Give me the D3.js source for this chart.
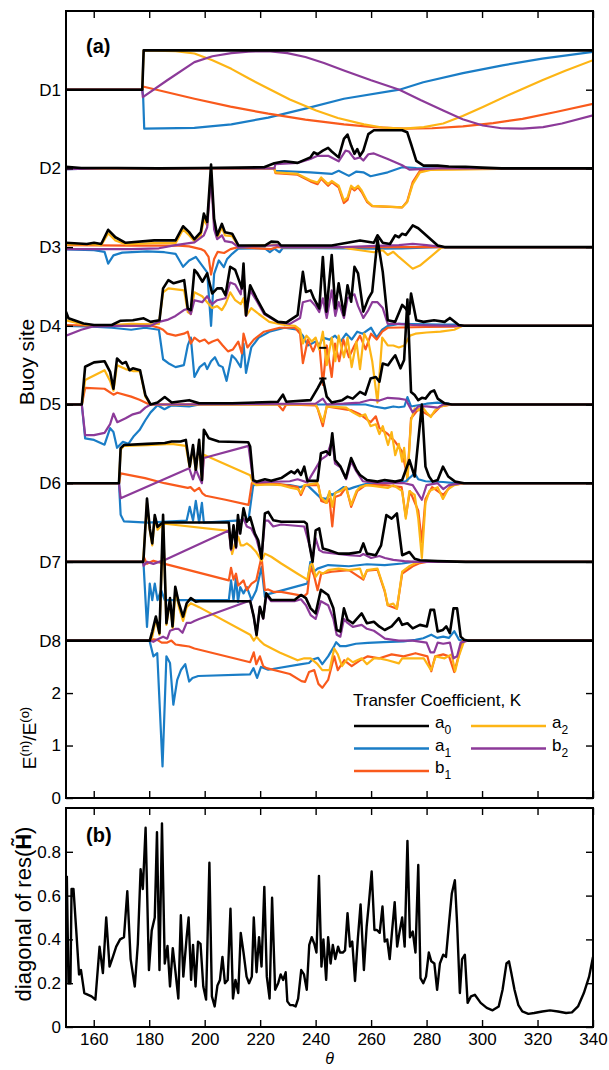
<!DOCTYPE html>
<html>
<head>
<meta charset="utf-8">
<script src="https://cdn.jsdelivr.net/npm/d3@7"></script>
<style>
  body { margin: 0; background: #fff; }
  text { font-family: "Liberation Sans", Arial, Helvetica, sans-serif; }
</style>
</head>
<body>
<div id="chart"></div>
<script>
// ---- data: [theta, normalised coefficient] ----
var siteNames = ["D1", "D2", "D3", "D4", "D5", "D6", "D7", "D8"];
var coefNames = ["a1", "b1", "a2", "b2", "a0"];   // drawing order, black last
var coefColors = {a0: "#000000", a1: "#1a7dc6", b1: "#f95a1c", a2: "#fdb515", b2: "#8c3a99"};

var D1_a0 = [[150,0],[177.5,0],[178,1],[340,1]];
var D1_a1 = [[150,0],[177.5,0],[177.8,-0.15],[178.2,-0.99],[196.3,-0.97],[209.6,-0.88],[222.9,-0.71],[236.3,-0.48],[250.2,-0.23],[270.2,0],[278.8,0.19],[293.1,0.42],[307.4,0.62],[321.7,0.79],[340,0.96]];
var D1_b1 = [[150,0],[177.5,0],[177.7,0.08],[196.3,-0.23],[209.3,-0.43],[222.9,-0.61],[236.3,-0.76],[250.2,-0.88],[261,-0.95],[271.7,-0.99],[282,-0.98],[293.1,-0.93],[304,-0.85],[314.6,-0.74],[327,-0.56],[340,-0.36]];
var D1_a2 = [[150,0],[177.5,0],[178,1],[189.5,0.98],[196.3,0.92],[202.8,0.75],[209.6,0.53],[215.8,0.29],[222.9,0.03],[230.7,-0.25],[240.2,-0.53],[248,-0.72],[257.4,-0.88],[264,-0.96],[271.7,-0.99],[279,-0.95],[286,-0.86],[293,-0.67],[300.3,-0.44],[310,-0.12],[321.7,0.24],[330,0.48],[340,0.75]];
var D1_b2 = [[150,0],[177.5,0],[177.7,-0.19],[186.5,0.24],[196.3,0.7],[202.8,0.85],[209.6,0.93],[215.8,0.97],[222.9,0.98],[229.8,0.93],[236.3,0.83],[243,0.68],[250.2,0.49],[260,0.24],[270.2,0],[278,-0.27],[286,-0.53],[293,-0.75],[300.3,-0.91],[307,-0.98],[314.6,-0.99],[322,-0.95],[328.8,-0.86],[340,-0.65]];

var D2_a0 = [[150,0.04],[155.5,0.01],[168.5,0.01],[183.5,0],[198.2,0.01],[212.1,0.02],[221.4,0.03],[225.1,0.13],[228.8,0.18],[233.5,0.14],[238.1,0.28],[239.4,0.41],[240.7,0.36],[242.6,0.45],[244.5,0.52],[245.8,0.43],[248.3,0.28],[250.2,0.75],[251.5,0.86],[252.8,0.58],[254,0.37],[255,0.49],[256,0.32],[257.2,0.45],[259,0.87],[261,0.97],[271.2,0.97],[273,0.92],[274.4,0.62],[276.3,0.19],[278.9,0.07],[284,0.07],[288,0.05],[294,0.04],[300,0.02],[307,0],[340,0]];
var D2_a1 = [[150,-0.02],[163.5,0],[225.1,0],[225.5,-0.06],[238.1,-0.1],[245.8,-0.14],[248.3,-0.06],[252,-0.19],[254.7,-0.08],[257.2,-0.1],[259.8,-0.2],[266,-0.1],[271.2,0.03],[276.3,0.01],[284,0],[340,0]];
var D2_b1 = [[150,0],[225.1,0],[225.5,-0.12],[233.5,-0.16],[238.1,-0.33],[240.7,-0.4],[242,-0.26],[244.5,-0.44],[245.8,-0.35],[248.3,-0.48],[250.2,-0.88],[251.5,-0.8],[252.8,-0.48],[254,-0.56],[255.3,-0.48],[256.6,-0.6],[258.5,-0.85],[260.4,-0.96],[271.2,-0.99],[273,-0.84],[275,-0.35],[277.6,-0.06],[281.4,-0.02],[290,0],[340,0]];
var D2_a2 = [[150,-0.01],[225.1,0],[225.5,-0.1],[233.5,-0.14],[238.1,-0.3],[240.7,-0.36],[242,-0.23],[244.5,-0.4],[245.8,-0.32],[248.3,-0.44],[250.2,-0.82],[251.5,-0.74],[252.8,-0.44],[254,-0.52],[255.3,-0.44],[256.6,-0.56],[258.5,-0.82],[260.4,-0.95],[271.2,-0.99],[273,-0.86],[275,-0.4],[277.6,-0.1],[281.4,-0.04],[290,-0.03],[305.6,-0.01],[309,0],[340,0]];
var D2_b2 = [[150,-0.02],[163.5,0],[225.1,0],[225.5,0.11],[233.5,0.14],[238.1,0.24],[240.7,0.32],[244.5,0.32],[248.3,0.18],[250.8,0.45],[252,0.43],[254,0.24],[256,0.28],[257.2,0.2],[259,0.36],[261,0.38],[266,0.24],[271.2,0.08],[273.8,-0.03],[277.6,-0.02],[284,0],[340,0]];

var D3_a0 = [[150,0.11],[157.5,0.08],[160.1,0.11],[162.7,0.08],[165.2,0.44],[167.8,0.25],[171.5,0.11],[181.8,0.17],[189.5,0.17],[192.2,0.53],[194.4,0.38],[196.3,0.2],[198.6,0.38],[199.7,0.85],[200.9,0.64],[202.3,2.1],[203.4,0.72],[204.5,0.3],[206.2,0.59],[207.3,0.38],[209.9,0.34],[212.2,0.04],[221.7,0.04],[224,0.14],[226.4,0.13],[227.5,0.04],[245.8,0.04],[256,0.17],[261,0.11],[262.3,0.3],[264.2,0.11],[266.8,0.08],[268.7,0.3],[270,0.25],[271.2,0.34],[272.5,0.31],[275,0.55],[277,0.48],[284,0.04],[286.5,0],[340,0]];
var D3_a1 = [[150,-0.06],[160.1,-0.08],[163.9,-0.12],[165.2,-0.42],[167.1,-0.21],[170.3,-0.14],[179.2,-0.11],[185.5,-0.13],[189.5,-0.17],[192.2,-0.5],[194.4,-0.34],[196.8,-0.25],[199.1,-0.47],[200.9,-0.64],[202.3,-2],[203.4,-0.68],[205.1,-0.34],[206.9,-0.51],[208.1,-0.3],[209.9,-0.17],[212.1,-0.04],[221.7,-0.03],[223.5,-0.13],[225.1,-0.04],[227,-0.13],[228.2,-0.02],[262.3,-0.04],[271.2,-0.03],[284,0],[340,0]];
var D3_b1 = [[150,0.05],[173.5,0.04],[189.5,0.04],[194.4,0.02],[198.6,-0.05],[200,-0.1],[201.4,-0.25],[202.3,-0.7],[203.4,-0.3],[204.7,-0.12],[207,-0.15],[209.3,-0.05],[212.1,0],[224,-0.05],[226,0],[340,0]];
var D3_a2 = [[150,0.07],[159.5,0.07],[162.7,0.05],[165.2,0.35],[167.8,0.17],[171.5,0.07],[181.8,0.1],[189.5,0.1],[192.2,0.45],[194.4,0.3],[196.3,0.15],[198.6,0.3],[199.7,0.7],[200.9,0.55],[202.3,1.95],[203.4,0.6],[204.5,0.22],[206.2,0.5],[207.3,0.3],[209.9,0.28],[212.2,0.02],[224,0.05],[226.4,0.06],[227.5,0],[250,0],[252,-0.04],[256,-0.08],[261,-0.13],[264.2,-0.08],[266,-0.2],[268,-0.12],[270,-0.25],[275,-0.55],[277.6,-0.47],[281.4,-0.25],[285.2,-0.02],[286.5,0],[340,0]];
var D3_b2 = [[150,-0.05],[173.5,-0.05],[183.5,-0.03],[189.5,0.05],[194.4,0.1],[196.3,0.12],[199.7,0.3],[200.9,0.5],[202.3,1.8],[203.4,0.45],[204.5,0.2],[206.2,0.3],[207.3,0.15],[209.9,0.12],[212.1,0],[224,0.04],[226.4,0.05],[227.5,0],[250,0],[262,0.03],[270,0.05],[275,0.08],[280,0.05],[286,0],[340,0]];

var D4_a0 = [[150,0.36],[150.9,0.19],[156.3,0.06],[160.1,0.02],[166.5,0.02],[169.7,0.13],[174.1,0.14],[178,0.19],[180.5,0.1],[183.7,0.14],[185,0.95],[186.9,1.16],[188.8,1.08],[192.6,1.16],[193.9,0.44],[195,0.4],[196.3,1.42],[197.4,1.33],[199.2,1.12],[200.9,1.33],[202.7,0.82],[204.5,0.95],[206.2,0.95],[207.5,0.78],[209.2,1.5],[211,1.42],[213.4,0.95],[214,1.58],[214.9,0.27],[216.4,1.03],[218.7,0.7],[221.7,0.31],[226.4,0.1],[229.4,0.08],[233.5,0.27],[235.4,1.37],[236.5,0.86],[238.2,0.9],[239.4,0.69],[241.3,0.44],[242.6,1.75],[243.9,0.36],[245.8,1.8],[247.1,0.44],[248.3,1.08],[250.2,0.27],[251.5,1.03],[252.8,0.61],[254,1.5],[255.3,1.33],[257.2,0.36],[259,0.69],[260.4,0.86],[262.3,2.2],[264.2,1.37],[266,0.14],[268.7,0.1],[271.2,0.53],[272.5,0.44],[273.8,0.3],[274.4,0.82],[276.3,0.14],[278.9,0.1],[282.7,0.14],[286.5,0.1],[288.4,0.2],[291.6,0.02],[293.5,0],[340,0]];
var D4_a1 = [[150,0],[159.5,-0.02],[166.5,-0.05],[173.5,-0.1],[178.5,-0.05],[183.5,-0.1],[185,-0.85],[186.9,-0.95],[189.5,-1.05],[192.5,-1],[193.9,-0.5],[195,-0.3],[196.3,-1.3],[198.2,-1.05],[200,-0.95],[200.9,-1.1],[202.3,-0.9],[203.7,-0.8],[205.1,-1],[206.5,-1.05],[207.9,-1.4],[209.8,-0.75],[211.2,-0.85],[213,-1.05],[214,-0.45],[214.9,-1.2],[216.8,-0.55],[219.5,-0.3],[223.3,-0.15],[228.8,-0.05],[233.5,-0.1],[235.4,-0.25],[237.2,-0.5],[240,-0.4],[241.3,-0.5],[242.6,-0.3],[245,-0.35],[247,-0.25],[249,-0.4],[251,-0.2],[253,-0.35],[255,-0.15],[257,-0.2],[260,-0.05],[262,-0.3],[264,-0.1],[266,0],[270,0.05],[285,0.03],[290,0.03],[293,0],[340,0]];
var D4_b1 = [[150,0.02],[163.5,0],[179.5,0.03],[183.5,-0.05],[185,-0.1],[186.5,-0.2],[189.5,-0.25],[192.5,-0.2],[193.9,-0.15],[195,-0.45],[196.3,-0.3],[198.2,-0.4],[200,-0.35],[201.4,-0.45],[202.8,-0.4],[204.7,-0.35],[206.5,-0.5],[208.4,-0.65],[210.2,-0.6],[212.1,-0.4],[213.4,-0.7],[214,-0.2],[215.4,-0.55],[217.7,-0.35],[221.4,-0.15],[227,-0.05],[232.6,-0.05],[234.4,-0.2],[235.4,-0.95],[237.2,-0.35],[239.1,-0.65],[240.5,-0.4],[241.5,-0.6],[242.6,-1.5],[244,-0.5],[245.8,-1.3],[247,-0.45],[248.5,-0.9],[250,-0.35],[252,-0.8],[254,-0.5],[256,-0.25],[258,-0.6],[260,-0.2],[262,-0.35],[264,-0.15],[266,-0.05],[280,-0.03],[290,-0.02],[293,0],[340,0]];
var D4_a2 = [[150,0.14],[155.5,0.05],[160.5,0],[166.5,0.02],[173.5,0.05],[180.5,0.04],[183.5,0.05],[185,0.85],[186.9,0.95],[192.6,0.9],[193.9,0.35],[195,0.3],[196.3,0.85],[199.1,0.75],[200.9,0.6],[202.7,0.45],[204.5,0.5],[206.2,0.4],[207.5,0.55],[209.2,0.85],[211,0.65],[213,0.55],[214,0.7],[214.9,0.25],[216.8,0.45],[219.5,0.3],[223.3,0.1],[228.8,0.02],[232.6,0],[234.4,-0.1],[235.4,-0.45],[236.7,-0.25],[238.6,-0.4],[240,-0.3],[241.3,-0.6],[242.6,-0.15],[244,-1],[245.8,-0.3],[247.1,-0.9],[248.3,-0.25],[250.2,-0.8],[251.5,-0.3],[253,-1.05],[254.7,-0.4],[256,-1.1],[257.5,-0.2],[259,-0.4],[260.4,-0.9],[262.3,-1.95],[264,-0.3],[266,-0.5],[268,-0.5],[270,-0.55],[272,-0.5],[274,-0.25],[276,-0.2],[280,-0.17],[285,-0.15],[290,-0.1],[293,0],[340,0]];
var D4_b2 = [[150,-0.25],[155.5,-0.1],[159.5,-0.02],[168.5,0],[180.5,0],[183.5,0.1],[186.5,0.15],[189.5,0.25],[192.5,0.4],[193.9,0.43],[195,0.3],[196.3,0.65],[199.1,0.6],[200.9,0.75],[202.7,0.55],[204.5,0.65],[207.5,0.7],[209.2,1.1],[211,1.05],[213,0.8],[214,1.4],[214.9,0.25],[216.4,0.9],[218.6,0.65],[221.4,0.3],[226.1,0.1],[230.7,0.05],[234.4,0.2],[235.4,0.6],[238.1,0.65],[240,0.5],[241.3,0.35],[242.6,0.7],[244,0.2],[245.8,0.9],[247.1,0.25],[248.3,0.6],[250.2,0.2],[251.5,0.7],[254,0.8],[255.3,0.5],[257.2,0.2],[259,0.4],[260.4,0.6],[262.3,0.6],[264.2,0.45],[266,0.05],[270,0.05],[275,0.02],[290,0],[340,0]];

var D5_a0 = [[150,0],[155.7,0],[156.9,0.96],[160.1,1.07],[163.9,1.1],[165.9,0.83],[167.1,0.4],[168.4,1.17],[170.3,1.04],[171.6,1.08],[172.9,0.87],[174.1,0.92],[176.7,0.87],[178.6,0.24],[180.5,0],[183,0.05],[185.6,0.19],[188.1,0.05],[194.4,0.11],[198,0.03],[209.9,0.03],[226.4,0.07],[228.2,0.25],[229.4,0.07],[238.2,0.11],[240.7,0.41],[242.6,0.66],[244,0.2],[245.8,0.05],[249.6,0.11],[251.5,0.2],[253.4,0.15],[256,0.32],[257.9,0.25],[259.8,0.66],[261.7,0.7],[263,0.58],[264.2,1.04],[266.1,1],[267.4,1.13],[268.7,1.25],[270.6,0.92],[271.9,1.13],[273.1,2.67],[274.4,0.32],[275.7,0.24],[277,0.11],[278.3,0.17],[279.6,0.15],[281.5,0.32],[282.7,0.36],[284,0.15],[286.5,0.03],[289.1,0],[340,0]];
var D5_a1 = [[150,0],[155.7,0],[156.9,-0.86],[160.1,-0.9],[163.9,-1.02],[165.9,-0.6],[167.1,-0.7],[168.4,-1.1],[170.5,-0.95],[172.5,-1],[174.5,-0.8],[176.5,-0.65],[178.6,-0.4],[180.5,-0.2],[183,-0.02],[185.5,-0.12],[188.1,-0.02],[194.4,-0.05],[198.2,0],[258,0],[261,-0.05],[265,-0.1],[268,-0.05],[270,-0.07],[272,-0.05],[273.1,0.19],[274.4,-0.05],[280,0.02],[284,0.05],[288,0.02],[289,0],[340,0]];
var D5_b1 = [[150,0],[155.7,0],[156.9,0.42],[163.9,0.4],[167.1,0.25],[168.5,0.3],[173.5,0.2],[176.5,0.12],[179.5,0.02],[181.5,0],[226.4,0],[228.2,-0.15],[229.4,0],[240,-0.02],[240.7,-0.1],[242.6,-0.55],[244,-0.05],[253,-0.15],[256,-0.25],[259.8,-0.45],[261.7,-0.3],[263,-0.6],[266,-0.75],[268.7,-0.95],[271.2,-1.2],[273.1,-1.85],[274.4,-0.35],[277,-0.12],[281.5,-0.3],[285,-0.05],[289,0],[340,0]];
var D5_a2 = [[150,0],[155.7,0],[156.9,0.62],[163.9,0.87],[165.9,0.6],[167.1,0.35],[168.4,1],[171.5,0.9],[174.1,0.85],[176.7,0.85],[178.6,0.2],[180.5,0],[240,0],[240.7,-0.1],[242.6,-0.45],[244,-0.05],[251,-0.08],[253.4,-0.2],[256,-0.3],[257.9,-0.25],[259.8,-0.55],[261.7,-0.5],[263,-0.75],[264.2,-0.55],[266.1,-1.03],[267.4,-0.7],[268.7,-1.29],[270,-1],[271.2,-1.45],[271.9,-1.1],[273.1,-1.95],[274.4,-0.4],[275.7,-0.1],[277,-0.15],[278.3,-0.05],[280,-0.2],[281.5,-0.32],[283,-0.15],[285,-0.05],[289,0],[340,0]];
var D5_b2 = [[150,0],[155.7,0],[156.9,-0.78],[160.1,-0.78],[163.9,-0.72],[165.9,-0.5],[167.1,-0.23],[168.5,-0.45],[171.5,-0.35],[174.1,-0.25],[176.7,-0.2],[178.6,-0.08],[180.5,0],[240,0.02],[242.6,0.15],[244,0],[250,0.02],[256,0.05],[259.8,0.12],[263,0.1],[266,0.17],[270,0.15],[272.5,0.12],[275,-0.2],[277,-0.05],[280,-0.05],[284,-0.08],[286,0],[340,0]];

var D6_a0 = [[150,0],[169.1,0],[169.7,0.89],[170.9,0.97],[179.2,1],[185.6,1.02],[188.1,1.06],[191.3,1.06],[193.2,1.1],[194.6,0.42],[195.8,0.97],[196.8,0.34],[198,1.1],[199,0.08],[199.7,1.36],[201.5,1.14],[205.1,1.06],[215.7,1.04],[216.4,0.93],[217.5,0.08],[218.7,0.04],[221.7,0.1],[224,0.06],[227.6,0.13],[231.2,0.3],[232.4,0.25],[233.5,0.34],[234.7,0.21],[235.9,0.42],[237,0.06],[240.7,0.06],[241.9,0.76],[243.9,0.81],[245.1,0.72],[246,1.27],[247,0.59],[249,0.42],[250.9,0.13],[252.8,0.64],[254.7,0.34],[256,0.21],[258.5,0.08],[262.3,0.04],[264.9,0.08],[268.7,0.04],[271.2,0.08],[273.8,0.59],[275.7,0.17],[278.3,2],[279.6,0.42],[280.9,0.17],[282.2,0.04],[284,0.08],[285.9,0.42],[287.8,0.17],[290.3,0.04],[293.5,0],[340,0]];
var D6_a1 = [[150,0],[169.1,0],[169.7,-0.8],[170.9,-0.97],[179.5,-1],[193.5,-0.95],[194.6,-0.6],[195.8,-0.95],[196.8,-0.45],[198,-1],[199,-0.5],[199.7,-1],[215.8,-0.93],[217.5,-0.05],[221.4,-0.02],[230.7,-0.05],[234.4,-0.1],[237,-0.05],[241.9,-0.38],[244,-0.4],[245,-0.25],[246,-0.3],[248,-0.2],[250,-0.1],[252,-0.15],[254,-0.1],[258,-0.02],[265,0.02],[272.5,0.05],[275.7,0.25],[277,0.1],[279.6,0.05],[286,0.03],[290,0],[340,0]];
var D6_b1 = [[150,0],[169.1,0],[169.7,0.25],[178.5,0.13],[185.5,0],[193.9,-0.12],[194.9,-0.1],[196.3,-0.2],[198,-0.12],[199.1,-0.25],[200.4,-0.32],[207.5,-0.42],[215.8,-0.55],[217,0],[218.6,0],[227,-0.02],[233.5,-0.1],[234.7,-0.3],[236.3,-0.05],[241,-0.05],[242,-0.45],[244,-0.5],[245,-0.4],[246,-1.1],[247,-0.35],[249,-0.3],[251,-0.1],[252.8,-0.6],[255,-0.2],[258,-0.05],[265,-0.05],[271,-0.1],[272.5,-0.85],[274,-0.2],[277,-0.7],[278.3,-1.5],[279.6,-0.4],[282,-0.1],[286,-0.3],[289,-0.05],[293.5,0],[340,0]];
var D6_a2 = [[150,0],[169.1,0],[169.7,0.85],[170.9,0.95],[179.5,0.97],[188.1,1],[193.2,0.95],[194.6,0.4],[195.8,0.9],[196.8,0.3],[198,1.05],[199,0.05],[199.7,0.72],[216.4,0.2],[217.5,0],[218.6,-0.05],[223.3,-0.03],[227.6,-0.05],[231.2,-0.12],[233.5,-0.15],[234.7,-0.25],[235.9,-0.05],[240.7,0],[241.9,-0.35],[243.9,-0.5],[245,-0.2],[246,-0.6],[247,-0.25],[249,-0.2],[250.9,-0.1],[252.8,-0.55],[254.7,-0.2],[256,-0.1],[258.5,-0.05],[262,-0.08],[266,-0.12],[268,-0.05],[271.2,-0.2],[272.5,-0.9],[273.8,-0.2],[275.7,-0.3],[277,-0.9],[278.3,-1.9],[279.6,-0.5],[281,-0.2],[284,-0.1],[285.9,-0.4],[287.8,-0.15],[290,-0.05],[293.5,0],[340,0]];
var D6_b2 = [[150,0],[169.1,0],[169.7,-0.38],[194.4,0.38],[195.8,0.1],[196.8,0.35],[198,0.15],[199,0],[199.7,0.64],[215.8,0.95],[217.5,0.05],[218.6,0.02],[230.7,0.05],[233.5,0.1],[237,0.02],[241.9,0.6],[244,0.7],[246,1.1],[247,0.5],[249,0.4],[251,0.1],[252.8,0.55],[254.7,0.3],[257,0.05],[262,0],[272,0],[275,-0.05],[278.3,-0.42],[280,-0.05],[284,0],[286,-0.15],[288,-0.05],[293,0],[340,0]];

var D7_a0 = [[150,0],[177.8,0],[178,0.13],[179.2,1.61],[180.2,0.85],[181.1,0.47],[182,1.19],[183,0.89],[184.3,0.97],[185.6,1],[208.7,1],[209.5,0.34],[210.4,0.93],[211.3,0.38],[212,1.19],[212.8,0.72],[214,1.36],[215.2,1.02],[216.4,1.14],[218.1,0.72],[219.3,0.55],[220.5,0.08],[221.7,1.23],[222.9,1.27],[224.7,1.06],[227.6,1.02],[235.9,1.02],[236.8,0.97],[237.7,0.47],[238.9,0],[240,0.8],[241.3,0.85],[242.6,0.34],[244.5,0.3],[248.3,0.21],[252.1,0.21],[256,0.25],[257.2,0.47],[258.5,0.21],[261.7,0.17],[263.6,0.42],[265.5,1.19],[267.4,1.1],[269.3,1.23],[271.2,0.17],[273.8,0.25],[275.7,0.08],[277.6,0.04],[284,0.02],[294.2,0],[340,0]];
var D7_a1 = [[150,0],[177.8,0],[178,-0.1],[179.2,-1.65],[180.2,-0.55],[181.1,-0.97],[182,-0.55],[183,-0.97],[184.3,-0.72],[185.6,-0.97],[208.7,-0.97],[209.5,-0.47],[210.4,-0.97],[211.3,-0.38],[212,-1.02],[212.8,-0.64],[214,-0.8],[215.2,-0.64],[216.9,-0.97],[218.6,-0.72],[220.5,-0.13],[221.7,-0.89],[222.9,-0.82],[235.9,-0.57],[237,-0.55],[238.1,0],[239.4,-0.25],[240.7,-0.17],[244.5,-0.08],[252,-0.11],[258.5,-0.06],[264.9,-0.08],[271.2,-0.04],[275,0],[340,0]];
var D7_b1 = [[150,0],[177.8,0],[178,0.13],[179.2,-0.05],[180.5,0],[181.5,0.03],[185.6,-0.05],[208.7,-0.47],[209.5,-0.15],[210.4,-0.45],[211.3,-0.3],[212.1,-0.6],[214,-0.47],[215.2,-0.72],[216.9,-0.55],[218.6,-0.47],[220.5,0.13],[221.7,-0.72],[222.9,-0.7],[224.7,-0.76],[227.6,-0.76],[235.9,-0.87],[237,-0.8],[238.1,-0.13],[239.4,-0.34],[240.7,-0.72],[242,-0.3],[245.8,-0.25],[252,-0.21],[257.2,-0.45],[258.5,-0.22],[262.3,-0.2],[264.9,-0.75],[266,-1.1],[269.3,-1.19],[271.2,-0.3],[275,-0.11],[277.6,-0.03],[280,0],[340,0]];
var D7_a2 = [[150,0],[177.8,0],[179.2,1.5],[180.2,0.8],[181.1,0.42],[182,1.12],[183,0.82],[184.3,0.92],[185.6,0.97],[208.7,0.79],[209.9,0.2],[211,0.5],[212.1,0.64],[213,0.42],[214,0.42],[215.2,0.47],[216.9,0.38],[218.6,0.25],[220.5,0.03],[221.7,0.21],[224,0.13],[227.6,-0.04],[233.5,-0.3],[237,-0.45],[238.1,-0.08],[238.8,-0.04],[240,-0.38],[241.3,-0.25],[242.6,-0.3],[244.5,-0.21],[248.3,-0.17],[252,-0.21],[256,-0.17],[257.2,-0.42],[258.5,-0.21],[262.3,-0.17],[264.9,-0.72],[266,-1.1],[268,-1.06],[269.3,-1.19],[271.2,-0.25],[273.8,-0.11],[275.7,-0.04],[277.6,0],[340,0]];
var D7_b2 = [[150,0],[177.8,0],[178,-0.1],[179.2,0],[181.5,-0.05],[183.5,0],[185.6,0.05],[208.7,0.8],[209.5,0.3],[210.4,0.9],[211.3,0.35],[212.1,1],[214,1.1],[215.2,0.9],[216.8,0.85],[218.6,0.6],[220.5,0.1],[221.7,1.05],[222.9,1.05],[224.7,0.9],[227.6,0.95],[235.9,0.9],[237.7,0.45],[238.9,0.05],[240,0.6],[241.3,0.3],[242.6,0.25],[248,0.2],[252,0.17],[256,0.15],[257.2,0.2],[260,0.1],[263,0.15],[265,0.1],[268,0.05],[272,0.02],[276,0],[340,0]];

var D8_a0 = [[150,0],[180.2,0],[181.1,0.23],[182.4,0.61],[183.7,0.19],[185,3.2],[186.2,0.44],[187.5,1.08],[188.4,0.36],[189.4,1.37],[190.7,0.95],[192.2,0.61],[193.5,0.95],[195,1.08],[196.8,0.99],[198,1],[216.4,1],[217.7,0.61],[218.7,0.14],[219.9,0.86],[221.1,0.57],[222.2,1.2],[224,1.03],[232.4,1.03],[234.7,1.16],[236.5,1.08],[238.2,0.82],[240,0.69],[241.9,1.29],[244.5,1.16],[246.4,0.82],[247.6,0.27],[248.9,0.23],[250.2,0.82],[251.5,0.53],[253.4,0.44],[256.6,0.69],[258.5,0.44],[261,0.48],[262.9,0.36],[264.9,0.27],[267.4,0.36],[270,0.57],[271.2,0.4],[273.1,0.44],[275,0.31],[277.6,0.4],[280.1,0.36],[281.4,0.78],[282.7,0.78],[284,0.23],[285.9,0.27],[287.1,0.36],[288.4,0.19],[289.7,0.82],[291,0.82],[292.3,0.1],[293.5,0.02],[294.8,0],[340,0]];
var D8_a1 = [[150,0],[180.1,0],[181.5,-0.4],[182.9,-0.32],[184.8,-3.2],[186.2,-0.4],[187.5,-0.57],[188.7,-1.63],[190.1,-1],[191.5,-0.74],[193,-0.6],[194.4,-1.04],[195.6,-0.95],[197.7,-0.9],[216.3,-0.86],[217.6,-0.7],[218.9,-0.95],[220.3,-0.67],[222.9,-0.74],[234.9,-0.6],[237.6,-0.57],[238.9,-0.48],[240.9,-0.44],[242.4,-0.6],[244.5,-0.4],[246.7,-0.14],[247.4,-0.04],[248.8,-0.14],[250.9,-0.14],[254.5,-0.08],[258.8,-0.06],[264.5,-0.04],[271.7,-0.02],[276,0.02],[278.8,0.06],[281.7,0.15],[283.8,0.07],[286,0.1],[288.1,0.07],[290,0.24],[291.7,0.02],[293.1,0],[340,0]];
var D8_b1 = [[150,0],[180.2,0],[181.5,0.03],[182.9,0.02],[184.5,-0.05],[186.5,-0.05],[188,0],[189.5,-0.1],[191.5,-0.12],[194.4,-0.15],[196.3,-0.2],[216.4,-0.55],[217.7,-0.3],[218.6,-0.6],[219.9,-0.4],[221.1,-0.65],[222.3,-0.7],[230.7,-0.85],[234.9,-1.03],[236.2,-1.05],[237.6,-0.8],[239.5,-0.75],[241,-1.1],[242.4,-1.2],[244.5,-1],[246.7,-0.4],[248,-0.75],[250.3,-0.5],[253,-0.65],[256,-0.5],[258.8,-0.4],[263,-0.45],[267.4,-0.35],[271.7,-0.4],[276,-0.32],[280.3,-0.4],[281.7,-0.78],[283.1,-0.4],[286,-0.35],[288.1,-0.4],[290,-0.8],[291.7,-0.35],[293.1,0],[340,0]];
var D8_a2 = [[150,0],[180.2,0],[181.1,0.1],[182.4,0.55],[183.7,0.15],[185,3],[186.2,0.4],[187.5,1],[188.5,0.3],[189.5,1.3],[190.7,0.85],[192.2,0.5],[193.5,0.85],[195,0.95],[198,0.85],[216.4,0.15],[217.7,0],[218.7,0.1],[219.9,0],[221.4,-0.1],[227,-0.3],[233.5,-0.5],[235.9,-0.45],[238.2,-0.45],[240.7,-0.6],[242.4,-0.75],[245,-0.75],[246.7,-0.2],[248,-0.35],[249.5,-0.65],[251.6,-0.45],[253.4,-0.55],[256.6,-0.45],[258.5,-0.6],[261,-0.45],[263,-0.45],[266,-0.5],[270,-0.58],[271.2,-0.45],[275,-0.45],[279,-0.45],[281.6,-0.75],[283.3,-0.4],[286.5,-0.45],[289,-0.35],[290.3,-0.78],[291.6,-0.4],[293.5,-0.02],[294.8,0],[340,0]];
var D8_b2 = [[150,0],[180.2,0],[181.5,-0.03],[183.5,0.05],[185,0.1],[186.5,0.05],[187.5,0.25],[189.5,0.3],[190.5,0.3],[192,0.2],[193.5,0.45],[195,0.45],[196.3,0.5],[198,0.55],[216.4,1.02],[217.7,0.6],[218.7,0.15],[219.9,0.85],[221.1,0.55],[222.2,1.15],[224,1],[232.4,1],[234.7,1.05],[236.5,0.9],[238.2,0.65],[240,0.55],[241.9,1],[244.5,0.9],[246.4,0.55],[247.6,0.15],[248.9,0.1],[250.2,0.55],[251.5,0.45],[253.4,0.35],[256.6,0.4],[258.5,0.3],[261,0.25],[263,0.15],[265,0.05],[268,0.02],[270,0],[275,0],[280,-0.05],[281.4,-0.3],[282.7,-0.3],[284,-0.05],[286,-0.08],[288.4,-0.05],[289.7,-0.45],[291,-0.4],[292.3,-0.05],[294.8,0],[340,0]];

// short cap marks near theta 242.6 (site, theta, value)
var capMarks = [["D4", 242.6, -0.56], ["D5", 242.6, 0.66]];

// panel (b): diagonal of res(H~)
var resH = [[150.3,0.69],[150.9,0.2],[151.6,0.2],[152,0.63],[152.7,0.63],[153.7,0.44],[154.7,0.24],[155.4,0.26],[156.6,0.155],[158,0.147],[159.2,0.14],[160.6,0.125],[162.1,0.367],[163.3,0.246],[164.5,0.5],[165.7,0.276],[166.9,0.32],[168.1,0.367],[169.5,0.4],[170.9,0.41],[172.1,0.62],[173.3,0.31],[174.8,0.185],[175.9,0.38],[176.9,0.72],[177.7,0.63],[178.7,0.91],[179.9,0.26],[180.9,0.44],[182,0.5],[182.8,0.89],[183.7,0.26],[184.6,0.93],[185.6,0.29],[186.6,0.37],[187.5,0.185],[188.5,0.36],[189.4,0.26],[190.5,0.13],[191.4,0.51],[192.3,0.23],[193.5,0.41],[194.2,0.5],[195.1,0.215],[195.8,0.375],[196.7,0.185],[197.6,0.39],[198.5,0.38],[199.5,0.185],[200.5,0.125],[201.7,0.75],[202.6,0.14],[203.6,0.094],[204.6,0.19],[205.5,0.215],[206.4,0.32],[207.3,0.2],[208.3,0.215],[209.3,0.54],[210.2,0.13],[211.1,0.215],[212.1,0.155],[213,0.43],[214,0.34],[215.1,0.23],[216,0.2],[217,0.23],[217.7,0.5],[218.7,0.25],[219.6,0.41],[220.5,0.276],[221.5,0.64],[222.4,0.23],[223.4,0.13],[224.3,0.59],[225.4,0.17],[226.5,0.2],[227.4,0.24],[228.3,0.215],[229.2,0.25],[229.8,0.117],[230.8,0.1],[231.8,0.1],[232.8,0.094],[233.7,0.13],[234.8,0.26],[235.8,0.24],[236.8,0.17],[237.7,0.375],[238.6,0.41],[239.5,0.38],[240.3,0.34],[241.2,0.69],[242.1,0.276],[242.8,0.4],[243.8,0.215],[244.5,0.41],[245.4,0.29],[246.2,0.375],[247.1,0.31],[248.1,0.367],[248.8,0.34],[249.8,0.34],[250.6,0.35],[251.5,0.52],[252.4,0.367],[253.2,0.39],[254.2,0.21],[255.2,0.4],[256.2,0.56],[257.4,0.26],[258.4,0.46],[259.2,0.565],[260.2,0.71],[261.2,0.443],[262.1,0.443],[263.1,0.43],[264.1,0.55],[264.9,0.39],[265.8,0.4],[266.7,0.31],[267.5,0.43],[268.5,0.57],[269.4,0.367],[270.2,0.43],[271.2,0.5],[272.1,0.367],[273.1,0.85],[274,0.41],[275,0.436],[276,0.34],[277,0.74],[277.8,0.223],[278.8,0.2],[279.8,0.23],[280.8,0.34],[281.7,0.3],[282.8,0.29],[283.8,0.17],[284.8,0.29],[286,0.33],[287,0.32],[288.1,0.474],[289.1,0.61],[290.2,0.67],[291,0.474],[292,0.155],[292.8,0.31],[293.8,0.33],[294.8,0.11],[296,0.14],[297.4,0.147],[299.5,0.11],[301.7,0.087],[303.8,0.076],[306,0.094],[307.4,0.17],[308.8,0.29],[309.7,0.3],[310.5,0.25],[311.7,0.17],[313.1,0.1],[314.5,0.071],[316.7,0.06],[318.8,0.064],[321.7,0.071],[324.5,0.076],[327.4,0.071],[330.3,0.064],[332.4,0.067],[334.6,0.094],[336.7,0.155],[338.6,0.23],[340,0.32]];

var xTicks = [160, 180, 200, 220, 240, 260, 280, 300, 320, 340];
var ratioTicks = [0, 1, 2];
var resTicks = [0, 0.2, 0.4, 0.6, 0.8];

// coefficient tables built from the arrays above
var siteSeries = [
  {a0: D1_a0, a1: D1_a1, b1: D1_b1, a2: D1_a2, b2: D1_b2},
  {a0: D2_a0, a1: D2_a1, b1: D2_b1, a2: D2_a2, b2: D2_b2},
  {a0: D3_a0, a1: D3_a1, b1: D3_b1, a2: D3_a2, b2: D3_b2},
  {a0: D4_a0, a1: D4_a1, b1: D4_b1, a2: D4_a2, b2: D4_b2},
  {a0: D5_a0, a1: D5_a1, b1: D5_b1, a2: D5_a2, b2: D5_b2},
  {a0: D6_a0, a1: D6_a1, b1: D6_b1, a2: D6_a2, b2: D6_b2},
  {a0: D7_a0, a1: D7_a1, b1: D7_b1, a2: D7_a2, b2: D7_b2},
  {a0: D8_a0, a1: D8_a1, b1: D8_b1, a2: D8_a2, b2: D8_b2}
];

// ---- layout ----
var W = 609, H = 1070;
var left = 66, right = 593;
var aTop = 11, aBottom = 798, bTop = 808, bBottom = 1027;
var kScale = 0.75;    // normalised coefficient -> E ratio units
var font = "'Liberation Sans', Arial, Helvetica, sans-serif";

var svg = d3.select("#chart").append("svg")
    .attr("width", W)
    .attr("height", H);

var x = d3.scaleLinear().domain([150, 340]).range([left, right]);
var yA = d3.scaleLinear().domain([0, 15]).range([aBottom, aTop]);
var yB = d3.scaleLinear().domain([0, 1]).range([bBottom, bTop]);

function siteOffset(i) { return 3 + 1.5 * (7 - i); }
var siteTicks = siteNames.map(function(s, i) { return siteOffset(i); });

svg.append("clipPath").attr("id", "clipA")
  .append("rect").attr("x", left).attr("y", aTop).attr("width", right - left).attr("height", aBottom - aTop);
svg.append("clipPath").attr("id", "clipB")
  .append("rect").attr("x", left).attr("y", bTop).attr("width", right - left).attr("height", bBottom - bTop);

// ---- panel (a) curves ----
var gA = svg.append("g").attr("clip-path", "url(#clipA)");
siteSeries.forEach(function(series, i) {
  var off = siteOffset(i);
  var line = d3.line()
      .x(function(d) { return x(d[0]); })
      .y(function(d) { return yA(off + d[1] * kScale); });
  coefNames.forEach(function(c) {
    gA.append("path")
      .datum(series[c])
      .attr("fill", "none")
      .attr("stroke", coefColors[c])
      .attr("stroke-width", c == "a0" ? 2.6 : 2.2)
      .attr("stroke-linejoin", "round")
      .attr("d", line);
  });
});

gA.selectAll(".cap")
  .data(capMarks)
  .enter().append("line")
    .attr("x1", function(d) { return x(d[1] - 1.3); })
    .attr("x2", function(d) { return x(d[1] + 1.3); })
    .attr("y1", function(d) { return yA(siteOffset(siteNames.indexOf(d[0])) + d[2] * kScale); })
    .attr("y2", function(d) { return yA(siteOffset(siteNames.indexOf(d[0])) + d[2] * kScale); })
    .attr("stroke", "#000")
    .attr("stroke-width", 2);

// ---- panel (b) curve ----
var lineB = d3.line()
    .x(function(d) { return x(d[0]); })
    .y(function(d) { return yB(d[1]); });
svg.append("g").attr("clip-path", "url(#clipB)")
  .append("path")
    .datum(resH)
    .attr("fill", "none")
    .attr("stroke", "#000")
    .attr("stroke-width", 2.4)
    .attr("stroke-linejoin", "round")
    .attr("d", lineB);

// ---- axes ----
function styleAxis(g) {
  g.select(".domain").remove();
  g.selectAll("line").attr("stroke", "#000").attr("stroke-width", 1.4);
  g.selectAll("text").attr("font-size", 17).attr("font-family", font).attr("fill", "#000");
}

var aTickVals = ratioTicks.concat(siteTicks);
svg.append("g")
    .attr("transform", "translate(" + left + ",0)")
    .call(d3.axisLeft(yA).tickValues(aTickVals).tickSizeInner(-7).tickSizeOuter(0).tickPadding(5)
      .tickFormat(function(d) {
        var k = siteTicks.indexOf(d);
        return k >= 0 ? siteNames[k] : d;
      }))
    .call(styleAxis);
svg.append("g")
    .attr("transform", "translate(" + right + ",0)")
    .call(d3.axisRight(yA).tickValues(aTickVals).tickSizeInner(-7).tickSizeOuter(0).tickFormat(""))
    .call(styleAxis);
svg.append("g")
    .attr("transform", "translate(0," + aTop + ")")
    .call(d3.axisTop(x).tickValues(xTicks).tickSizeInner(-7).tickSizeOuter(0).tickFormat(""))
    .call(styleAxis);
svg.append("g")
    .attr("transform", "translate(0," + aBottom + ")")
    .call(d3.axisBottom(x).tickValues(xTicks).tickSizeInner(-7).tickSizeOuter(0).tickFormat(""))
    .call(styleAxis);

svg.append("g")
    .attr("transform", "translate(" + left + ",0)")
    .call(d3.axisLeft(yB).tickValues(resTicks).tickSizeInner(-7).tickSizeOuter(0).tickPadding(5)
      .tickFormat(function(d) { return d === 0 ? "0" : d3.format(".1f")(d); }))
    .call(styleAxis);
svg.append("g")
    .attr("transform", "translate(" + right + ",0)")
    .call(d3.axisRight(yB).tickValues(resTicks).tickSizeInner(-7).tickSizeOuter(0).tickFormat(""))
    .call(styleAxis);
svg.append("g")
    .attr("transform", "translate(0," + bTop + ")")
    .call(d3.axisTop(x).tickValues(xTicks).tickSizeInner(-7).tickSizeOuter(0).tickFormat(""))
    .call(styleAxis);
svg.append("g")
    .attr("transform", "translate(0," + bBottom + ")")
    .call(d3.axisBottom(x).tickValues(xTicks).tickSizeInner(-7).tickSizeOuter(0).tickPadding(6))
    .call(styleAxis);

// frames
[[aTop, aBottom], [bTop, bBottom]].forEach(function(p) {
  svg.append("rect")
    .attr("x", left).attr("y", p[0])
    .attr("width", right - left).attr("height", p[1] - p[0])
    .attr("fill", "none").attr("stroke", "#000").attr("stroke-width", 2);
});

// ---- labels ----
svg.append("text").attr("x", 86).attr("y", 53)
  .attr("font-size", 20).attr("font-weight", "bold").text("(a)");
svg.append("text").attr("x", 86).attr("y", 842)
  .attr("font-size", 20).attr("font-weight", "bold").text("(b)");

svg.append("text")
  .attr("transform", "translate(34,362) rotate(-90)")
  .attr("text-anchor", "middle").attr("font-size", 21)
  .text("Buoy site");

var eLab = svg.append("text")
  .attr("transform", "translate(36,738) rotate(-90)")
  .attr("text-anchor", "middle").attr("font-size", 19);
eLab.append("tspan").text("E");
eLab.append("tspan").attr("font-size", 13).attr("dy", -7).text("(n)");
eLab.append("tspan").attr("dy", 7).text("/E");
eLab.append("tspan").attr("font-size", 13).attr("dy", -7).text("(o)");

var hLab = svg.append("text")
  .attr("transform", "translate(31,914) rotate(-90)")
  .attr("text-anchor", "middle").attr("font-size", 22);
hLab.append("tspan").text("diagonal of res(");
hLab.append("tspan").attr("font-weight", "bold").text("H\u0303");
hLab.append("tspan").text(")");

svg.append("text").attr("x", (left + right) / 2).attr("y", 1064)
  .attr("text-anchor", "middle").attr("font-size", 16).attr("font-style", "italic")
  .text("\u03b8");

// ---- legend ----
var legend = svg.append("g");
legend.append("text").attr("x", 353).attr("y", 706).attr("font-size", 17)
  .text("Transfer Coefficient, K");
var legendItems = [
  {c: "a0", base: "a", sub: "0", col: 0, row: 0},
  {c: "a1", base: "a", sub: "1", col: 0, row: 1},
  {c: "b1", base: "b", sub: "1", col: 0, row: 2},
  {c: "a2", base: "a", sub: "2", col: 1, row: 0},
  {c: "b2", base: "b", sub: "2", col: 1, row: 1}
];
legendItems.forEach(function(d) {
  var lx = d.col == 0 ? 354 : 471;
  var ly = 726 + d.row * 22.5;
  legend.append("line")
    .attr("x1", lx).attr("x2", lx + 75).attr("y1", ly).attr("y2", ly)
    .attr("stroke", coefColors[d.c]).attr("stroke-width", 2.4);
  var t = legend.append("text").attr("x", lx + 81).attr("y", ly + 2).attr("font-size", 17);
  t.append("tspan").text(d.base);
  t.append("tspan").attr("font-size", 12).attr("dy", 6).text(d.sub);
});
</script>
</body>
</html>
